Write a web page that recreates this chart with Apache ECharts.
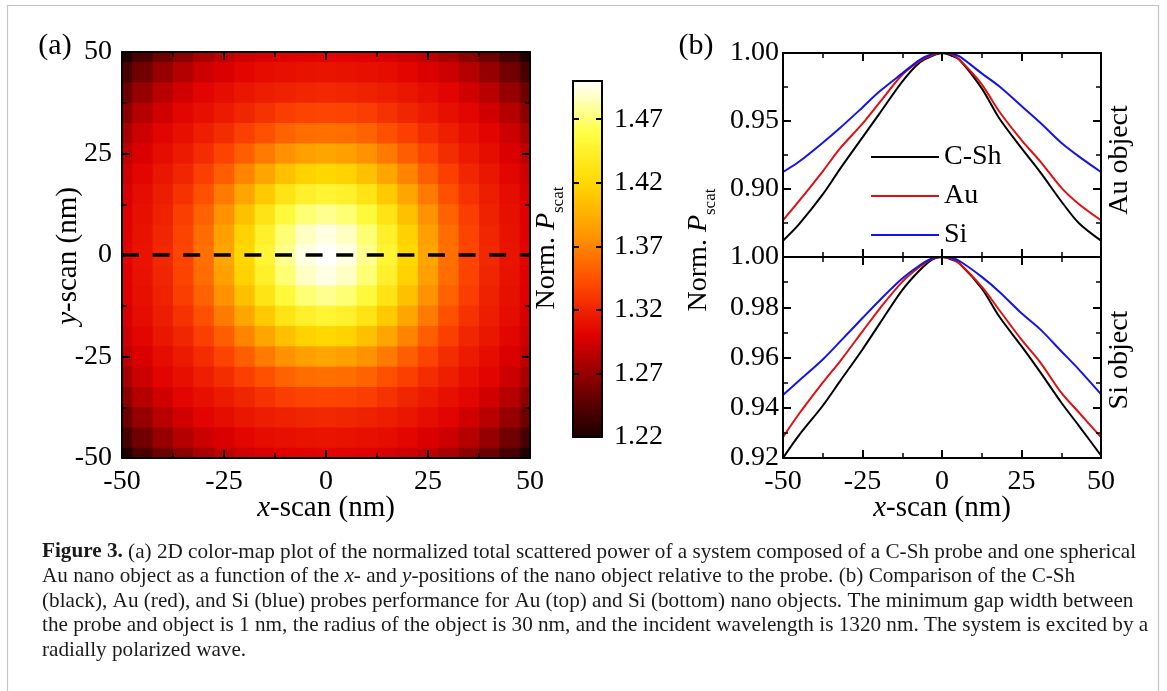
<!DOCTYPE html>
<html>
<head>
<meta charset="utf-8">
<script src="https://cdn.jsdelivr.net/npm/echarts@6/dist/echarts.min.js"></script>
<style>
  html, body { margin: 0; padding: 0; background: #fff; }
  #chart { width: 1167px; height: 691px; }
</style>
</head>
<body>
<div id="chart"></div>
<script>
// (a) colour map of Norm. P_scat, cell centres in nm; rows go from y = 50 down to y = -50
const mapX = [-50, -45, -40, -35, -30, -25, -20, -15, -10, -5, 0, 5, 10, 15, 20, 25, 30, 35, 40, 45, 50]
const mapY = [50, 45, 40, 35, 30, 25, 20, 15, 10, 5, 0, -5, -10, -15, -20, -25, -30, -35, -40, -45, -50]
const pScat = [
  [1.222,1.239,1.254,1.267,1.278,1.287,1.293,1.297,1.300,1.301,1.302,1.301,1.300,1.297,1.293,1.287,1.278,1.267,1.254,1.239,1.222],
  [1.239,1.256,1.271,1.283,1.292,1.298,1.303,1.307,1.309,1.310,1.311,1.310,1.309,1.307,1.303,1.298,1.292,1.283,1.271,1.256,1.239],
  [1.254,1.271,1.284,1.294,1.302,1.307,1.312,1.316,1.319,1.321,1.322,1.321,1.319,1.316,1.312,1.307,1.302,1.294,1.284,1.271,1.254],
  [1.267,1.283,1.294,1.303,1.309,1.315,1.321,1.328,1.334,1.337,1.338,1.337,1.334,1.328,1.321,1.315,1.309,1.303,1.294,1.283,1.267],
  [1.278,1.292,1.302,1.309,1.317,1.325,1.335,1.344,1.353,1.358,1.360,1.358,1.353,1.344,1.335,1.325,1.317,1.309,1.302,1.292,1.278],
  [1.287,1.298,1.307,1.315,1.325,1.337,1.351,1.365,1.377,1.385,1.388,1.385,1.377,1.365,1.351,1.337,1.325,1.315,1.307,1.298,1.287],
  [1.293,1.303,1.312,1.321,1.335,1.351,1.370,1.388,1.405,1.416,1.420,1.416,1.405,1.388,1.370,1.351,1.335,1.321,1.312,1.303,1.293],
  [1.297,1.307,1.316,1.328,1.344,1.365,1.388,1.412,1.432,1.445,1.450,1.445,1.432,1.412,1.388,1.365,1.344,1.328,1.316,1.307,1.297],
  [1.300,1.309,1.319,1.334,1.353,1.377,1.405,1.432,1.454,1.470,1.476,1.470,1.454,1.432,1.405,1.377,1.353,1.334,1.319,1.309,1.300],
  [1.301,1.310,1.321,1.337,1.358,1.385,1.416,1.445,1.470,1.487,1.494,1.487,1.470,1.445,1.416,1.385,1.358,1.337,1.321,1.310,1.301],
  [1.302,1.311,1.322,1.338,1.360,1.388,1.420,1.450,1.476,1.494,1.500,1.494,1.476,1.450,1.420,1.388,1.360,1.338,1.322,1.311,1.302],
  [1.301,1.310,1.321,1.337,1.358,1.385,1.416,1.445,1.470,1.487,1.494,1.487,1.470,1.445,1.416,1.385,1.358,1.337,1.321,1.310,1.301],
  [1.300,1.309,1.319,1.334,1.353,1.377,1.405,1.432,1.454,1.470,1.476,1.470,1.454,1.432,1.405,1.377,1.353,1.334,1.319,1.309,1.300],
  [1.297,1.307,1.316,1.328,1.344,1.365,1.388,1.412,1.432,1.445,1.450,1.445,1.432,1.412,1.388,1.365,1.344,1.328,1.316,1.307,1.297],
  [1.293,1.303,1.312,1.321,1.335,1.351,1.370,1.388,1.405,1.416,1.420,1.416,1.405,1.388,1.370,1.351,1.335,1.321,1.312,1.303,1.293],
  [1.287,1.298,1.307,1.315,1.325,1.337,1.351,1.365,1.377,1.385,1.388,1.385,1.377,1.365,1.351,1.337,1.325,1.315,1.307,1.298,1.287],
  [1.278,1.292,1.302,1.309,1.317,1.325,1.335,1.344,1.353,1.358,1.360,1.358,1.353,1.344,1.335,1.325,1.317,1.309,1.302,1.292,1.278],
  [1.267,1.283,1.294,1.303,1.309,1.315,1.321,1.328,1.334,1.337,1.338,1.337,1.334,1.328,1.321,1.315,1.309,1.303,1.294,1.283,1.267],
  [1.254,1.271,1.284,1.294,1.302,1.307,1.312,1.316,1.319,1.321,1.322,1.321,1.319,1.316,1.312,1.307,1.302,1.294,1.284,1.271,1.254],
  [1.239,1.256,1.271,1.283,1.292,1.298,1.303,1.307,1.309,1.310,1.311,1.310,1.309,1.307,1.303,1.298,1.292,1.283,1.271,1.256,1.239],
  [1.222,1.239,1.254,1.267,1.278,1.287,1.293,1.297,1.300,1.301,1.302,1.301,1.300,1.297,1.293,1.287,1.278,1.267,1.254,1.239,1.222]
]
const barTicks = [1.22, 1.27, 1.32, 1.37, 1.42, 1.47]

// (b) scans along y = 0
const scanX = [-50, -45, -37.5, -32, -25, -19.5, -12.5, -7, -3, 0, 3, 5.5, 12.5, 18, 25, 31, 37.5, 43, 50]
// Au object (top)
const auCSh = [0.862, 0.874, 0.896, 0.915, 0.938, 0.956, 0.979, 0.993, 0.998, 1.000, 0.998, 0.995, 0.974, 0.952, 0.930, 0.912, 0.891, 0.875, 0.862]
const auAu  = [0.877, 0.891, 0.913, 0.930, 0.948, 0.964, 0.984, 0.994, 0.9985, 1.000, 0.999, 0.995, 0.977, 0.957, 0.936, 0.920, 0.901, 0.889, 0.877]
const auSi  = [0.9125, 0.920, 0.934, 0.945, 0.960, 0.972, 0.985, 0.995, 0.9993, 1.000, 0.9995, 0.9975, 0.985, 0.9755, 0.961, 0.9485, 0.934, 0.924, 0.9125]
// Si object (bottom)
const siCSh = [0.920, 0.929, 0.9408, 0.9507, 0.9632, 0.9737, 0.9868, 0.9947, 0.999, 1.000, 0.999, 0.9974, 0.9875, 0.9763, 0.9645, 0.954, 0.9421, 0.9329, 0.921]
const siAu  = [0.9283, 0.9375, 0.950, 0.9586, 0.9704, 0.9796, 0.9901, 0.9961, 0.9993, 1.000, 0.9993, 0.9974, 0.9882, 0.9789, 0.9671, 0.9579, 0.946, 0.9382, 0.9283]
const siSi  = [0.9451, 0.9507, 0.9592, 0.9664, 0.9757, 0.9829, 0.9914, 0.9967, 0.9995, 1.000, 0.9996, 0.9984, 0.9921, 0.9862, 0.9776, 0.9711, 0.9625, 0.9553, 0.9454]

const FONT = 'Liberation Serif'
const hotColors = ['#1c0000', '#7c0000', '#e00000', '#ff4800', '#ff9800', '#ffd800', '#ffff45', '#ffffff']

// flatten the colour map into [x, y, value]
const mapData = []
mapY.forEach((y, r) => mapX.forEach((x, c) => mapData.push([x, y, pScat[r][c]])))

function renderCell(params, api) {
  const x = api.value(0)
  const y = api.value(1)
  const p0 = api.coord([x - 2.5, y + 2.5])
  const p1 = api.coord([x + 2.5, y - 2.5])
  const cs = params.coordSys
  const rect = echarts.graphic.clipRectByRect(
    { x: p0[0], y: p0[1], width: p1[0] - p0[0] + 0.8, height: p1[1] - p0[1] + 0.8 },
    { x: cs.x, y: cs.y, width: cs.width, height: cs.height }
  )
  if (!rect) return
  return { type: 'rect', shape: rect, style: { fill: api.visual('color') } }
}

const labelFont = { fontFamily: FONT, fontSize: 28, color: '#000' }

// framed axis with inward ticks
function frameAxis(opt) {
  const a = {
    type: 'value', z: 10,
    axisLine: { show: true, onZero: false, lineStyle: { color: '#000', width: 2 } },
    axisTick: { show: true, inside: true, length: 8, lineStyle: { color: '#000', width: 2 } },
    minorTick: { show: true, splitNumber: 2, length: 5, lineStyle: { color: '#000', width: 1.5 } },
    splitLine: { show: false },
    minorSplitLine: { show: false },
    axisLabel: { show: false }
  }
  return Object.assign(a, opt)
}

function showLabels(fmt, margin, extra) {
  return Object.assign({ show: true, margin: margin, formatter: fmt }, labelFont, extra || {})
}

const intFmt = v => String(Math.round(v))
const decFmt = v => v.toFixed(2)

function scan(name, xs, ys, color, xi, yi) {
  return {
    type: 'line', name: name, xAxisIndex: xi, yAxisIndex: yi,
    data: xs.map((x, i) => [x, ys[i]]),
    symbol: 'none', smooth: 0.3, z: 3,
    lineStyle: { color: color, width: 2 }, itemStyle: { color: color }
  }
}

function txt(x, y, text, opt) {
  return {
    type: 'text', x: x, y: y, rotation: (opt && opt.rotation) || 0, z: 20,
    style: Object.assign({
      text: text, fill: '#000', fontFamily: FONT, fontSize: 28,
      align: 'center', verticalAlign: 'middle'
    }, (opt && opt.style) || {})
  }
}

const pRich = {
  n: { fontFamily: FONT, fontSize: 28, fill: '#000', padding: [0, 0, 6, 0] },
  i: { fontFamily: FONT, fontSize: 28, fontStyle: 'italic', fill: '#000', padding: [0, 0, 6, 0] },
  s: { fontFamily: FONT, fontSize: 17, fill: '#000', verticalAlign: 'bottom' }
}
const axRich = {
  n: { fontFamily: FONT, fontSize: 29, fill: '#000' },
  i: { fontFamily: FONT, fontSize: 29, fontStyle: 'italic', fill: '#000' }
}
const CAP = 21.2
const capRich = {
  n: { fontFamily: FONT, fontSize: CAP, fill: '#1a1a1a' },
  b: { fontFamily: FONT, fontSize: CAP, fontWeight: 'bold', fill: '#1a1a1a' },
  i: { fontFamily: FONT, fontSize: CAP, fontStyle: 'italic', fill: '#1a1a1a' }
}
const caption = [
  '{b|Figure 3.}{n| (a) 2D color-map plot of the normalized total scattered power of a system composed of a C-Sh probe and one spherical}',
  '{n|Au nano object as a function of the }{i|x}{n|- and }{i|y}{n|-positions of the nano object relative to the probe. (b) Comparison of the C-Sh}',
  '{n|(black), Au (red), and Si (blue) probes performance for Au (top) and Si (bottom) nano objects. The minimum gap width between}',
  '{n|the probe and object is 1 nm, the radius of the object is 30 nm, and the incident wavelength is 1320 nm. The system is excited by a}',
  '{n|radially polarized wave.}'
]

const graphics = [
  { type: 'rect', z: 0, shape: { x: 7.5, y: 5.5, width: 1151, height: 720 }, style: { fill: 'none', stroke: '#c4c4c4', lineWidth: 1.2 } },
  txt(55, 46, '(a)', { style: { fontSize: 30 } }),
  txt(696, 46, '(b)', { style: { fontSize: 30 } }),
  txt(68, 256, '{i|y}{n|-scan (nm)}', { rotation: Math.PI / 2, style: { rich: axRich } }),
  txt(326, 508, '{i|x}{n|-scan (nm)}', { style: { rich: axRich } }),
  txt(942, 508, '{i|x}{n|-scan (nm)}', { style: { rich: axRich } }),
  txt(550, 248, '{n|Norm. }{i|P}{s|scat}', { rotation: Math.PI / 2, style: { rich: pRich } }),
  txt(702, 250, '{n|Norm. }{i|P}{s|scat}', { rotation: Math.PI / 2, style: { rich: pRich } }),
  txt(1120, 160, 'Au object', { rotation: Math.PI / 2 }),
  txt(1120, 360, 'Si object', { rotation: Math.PI / 2 })
]
caption.forEach((line, k) => {
  graphics.push({
    type: 'text', x: 42, y: 552 + k * 24.6, z: 20,
    style: { text: line, rich: capRich, align: 'left', verticalAlign: 'middle', fontFamily: FONT, fontSize: CAP }
  })
})

const chart = echarts.init(document.getElementById('chart'), null, { renderer: 'canvas' })

const option = {
  backgroundColor: '#fff',
  animation: false,
  grid: [
    { left: 122, top: 52, width: 408, height: 406 },
    { left: 573, top: 81, width: 29, height: 356 },
    { left: 783, top: 53, width: 318, height: 204 },
    { left: 783, top: 257, width: 318, height: 201 }
  ],
  xAxis: [
    frameAxis({ gridIndex: 0, position: 'bottom', min: -50, max: 50, interval: 25, axisLabel: showLabels(intFmt, 10) }),
    frameAxis({ gridIndex: 0, position: 'top', min: -50, max: 50, interval: 25 }),
    frameAxis({ gridIndex: 1, position: 'bottom', min: 0, max: 1, axisTick: { show: false }, minorTick: { show: false } }),
    frameAxis({ gridIndex: 1, position: 'top', min: 0, max: 1, axisTick: { show: false }, minorTick: { show: false } }),
    frameAxis({ gridIndex: 2, position: 'bottom', min: -50, max: 50, interval: 25 }),
    frameAxis({ gridIndex: 2, position: 'top', min: -50, max: 50, interval: 25 }),
    frameAxis({ gridIndex: 3, position: 'bottom', min: -50, max: 50, interval: 25, axisLabel: showLabels(intFmt, 10) }),
    frameAxis({ gridIndex: 3, position: 'top', min: -50, max: 50, interval: 25 })
  ],
  yAxis: [
    frameAxis({ gridIndex: 0, position: 'left', min: -50, max: 50, interval: 25, axisLabel: showLabels(intFmt, 10) }),
    frameAxis({ gridIndex: 0, position: 'right', min: -50, max: 50, interval: 25 }),
    frameAxis({
      gridIndex: 1, position: 'left', min: 1.22, max: 1.50,
      axisTick: { show: true, inside: true, length: 6, customValues: barTicks.slice(1), lineStyle: { color: '#000', width: 2 } },
      minorTick: { show: false }
    }),
    frameAxis({
      gridIndex: 1, position: 'right', min: 1.22, max: 1.50,
      axisTick: { show: true, inside: true, length: 6, customValues: barTicks.slice(1), lineStyle: { color: '#000', width: 2 } },
      minorTick: { show: false },
      axisLabel: showLabels(decFmt, 12, { customValues: barTicks })
    }),
    frameAxis({ gridIndex: 2, position: 'left', min: 0.85, max: 1.00, interval: 0.05, axisLabel: showLabels(decFmt, 4, { showMinLabel: false }) }),
    frameAxis({ gridIndex: 2, position: 'right', min: 0.85, max: 1.00, interval: 0.05 }),
    frameAxis({ gridIndex: 3, position: 'left', min: 0.92, max: 1.00, interval: 0.02, axisLabel: showLabels(decFmt, 4) }),
    frameAxis({ gridIndex: 3, position: 'right', min: 0.92, max: 1.00, interval: 0.02 })
  ],
  visualMap: {
    type: 'continuous', min: 1.22, max: 1.50, dimension: 2, seriesIndex: 0,
    calculable: false, hoverLink: false, left: 573, top: 81, padding: 0,
    itemWidth: 29, itemHeight: 356, z: 5,
    inRange: { color: hotColors }
  },
  legend: {
    data: ['C-Sh', 'Au', 'Si'], orient: 'vertical', left: 871, top: 143,
    icon: 'rect', itemWidth: 68, itemHeight: 2, itemGap: 11, padding: 0, selectedMode: false,
    textStyle: { fontFamily: FONT, fontSize: 28, lineHeight: 28, color: '#000' }
  },
  graphic: graphics,
  series: [
    { type: 'custom', name: 'map', xAxisIndex: 0, yAxisIndex: 0, data: mapData, renderItem: renderCell, z: 1, silent: true },
    {
      type: 'line', name: 'scan line', xAxisIndex: 0, yAxisIndex: 0, data: [[-50, 0], [50, 0]],
      symbol: 'none', z: 4, silent: true,
      lineStyle: { color: '#000', width: 3.5, type: [17, 13.6] }
    },
    scan('C-Sh', scanX, auCSh, '#000000', 4, 4),
    scan('Au', scanX, auAu, '#e01010', 4, 4),
    scan('Si', scanX, auSi, '#1414e6', 4, 4),
    scan('C-Sh', scanX, siCSh, '#000000', 6, 6),
    scan('Au', scanX, siAu, '#e01010', 6, 6),
    scan('Si', scanX, siSi, '#1414e6', 6, 6)
  ]
}

chart.setOption(option)
</script>
</body>
</html>
